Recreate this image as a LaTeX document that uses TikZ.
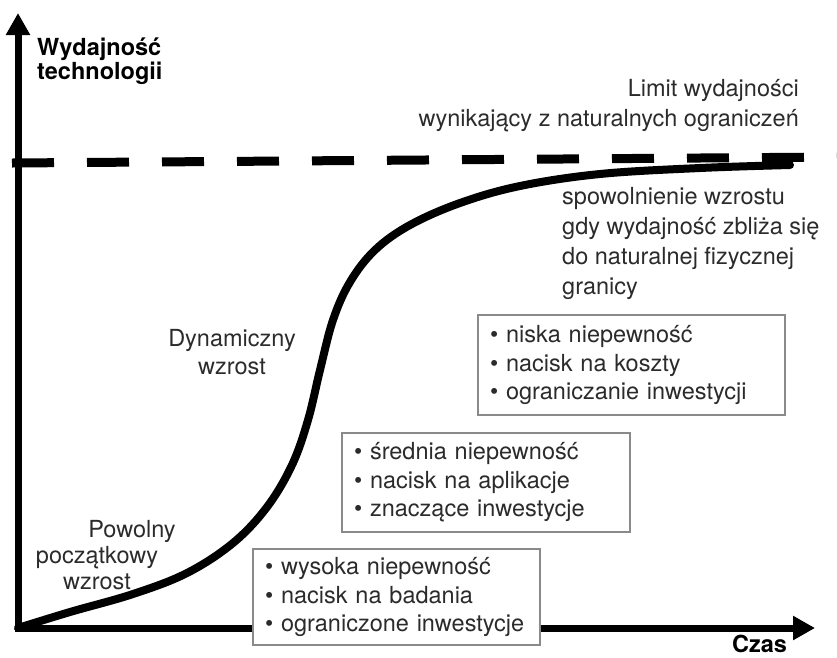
\documentclass[tikz,border=0pt]{standalone}
\usepackage{fontspec}
\setmainfont{TeX Gyre Heros}
\usetikzlibrary{arrows.meta}
\definecolor{txtgray}{HTML}{2B2B2B}
\definecolor{boxgray}{HTML}{8A8A8A}

\begin{document}
\begin{tikzpicture}[x=1pt,y=-1pt,
  axis/.style={line width=7pt,line cap=rect,-{Triangle[length=22pt,width=23pt]}},
  limit/.style={line width=9pt,dash pattern=on 42pt off 33pt},
  curve/.style={line width=8pt,line cap=round},
  lbl/.style={inner sep=0pt,text=txtgray,font=\fontsize{23.5}{30}\selectfont},
  ttl/.style={inner sep=0pt,font=\bfseries\fontsize{23.5}{24}\selectfont},
  infobox/.style={draw=boxgray,line width=1.2pt,fill=white,inner xsep=12pt,inner ysep=0pt,
    align=left,text=txtgray,font=\fontsize{23.5}{28.5}\selectfont}]
\useasboundingbox (0,0) rectangle (837,657);

\coordinate (O) at (18,628);
\coordinate (ytip) at (18,13);
\coordinate (xtip) at (815,628);
\coordinate (L1) at (12,163);
\coordinate (L2) at (837,157);
\coordinate (E) at (790,165);

\draw[limit] (L1) -- (L2);
\draw[axis] (O) -- (ytip);
\draw[axis] (O) -- (xtip);

\draw[curve] plot[smooth,tension=0.6] coordinates {(O) (70,612) (133,594) (187,573)
  (233,543) (267,507) (292,465) (308,420) (320,370) (333,320) (350,282) (375,250)
  (410,225) (460,203) (520,186) (600,174) (700,168) (E)};

\node[ttl,anchor=west,align=left] (ylab) at (37,61) {Wydajność\\technologii};
\node[ttl,anchor=base west] (xlab) at (732,652) {Czas};

\node[lbl,anchor=east,align=right] (limit) at (799,106) {Limit wydajności\\wynikający z naturalnych ograniczeń};
\node[lbl,anchor=west,align=left] (slow) at (562,243) {spowolnienie wzrostu\\gdy wydajność zbliża się\\do naturalnej fizycznej\\granicy};
\node[lbl,align=center,font=\fontsize{23.5}{28}\selectfont] (dyn) at (232,352) {Dynamiczny\\wzrost};
\node[lbl,align=center,font=\fontsize{23.5}{26}\selectfont] (start) at (97,555) {\hspace*{70pt}Powolny\\początkowy\\wzrost};

\node[infobox,text width=283pt,minimum height=100pt] (niska) at (631.5,365)
  {\textbullet\ niska niepewność\\\textbullet\ nacisk na koszty\\\textbullet\ ograniczanie inwestycji};
\node[infobox,text width=264pt,minimum height=99pt] (srednia) at (486,482.5)
  {\textbullet\ średnia niepewność\\\textbullet\ nacisk na aplikacje\\\textbullet\ znaczące inwestycje};
\node[infobox,text width=263pt,minimum height=96pt] (wysoka) at (396.5,597)
  {\textbullet\ wysoka niepewność\\\textbullet\ nacisk na badania\\\textbullet\ ograniczone inwestycje};
\end{tikzpicture}
\end{document}
